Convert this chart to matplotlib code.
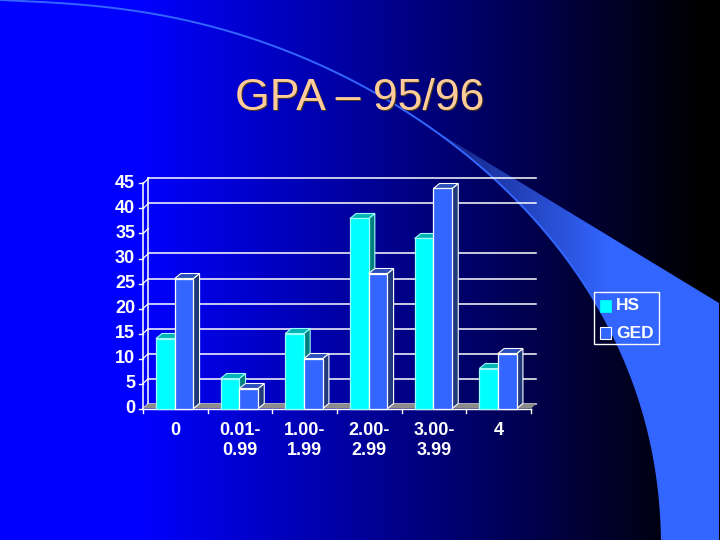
import numpy as np
import matplotlib
matplotlib.use("Agg")
import matplotlib.pyplot as plt
from matplotlib.patches import Polygon, Rectangle
from matplotlib.transforms import Affine2D

categories = ['0', '0.01-\n0.99', '1.00-\n1.99', '2.00-\n2.99', '3.00-\n3.99', '4']
hs = [14, 6, 15, 38, 34, 8]
ged = [26, 4, 10, 27, 44, 11]
y_ticks = [0, 5, 10, 15, 20, 25, 30, 35, 40, 45]
# the 35 line is missing on the back wall of the original
wall_lines = [0, 5, 10, 15, 20, 25, 30, 40, 45]
title = 'GPA \u2013 95/96'

plt.rcParams['font.family'] = ['Liberation Sans', 'DejaVu Sans']

W, H = 720, 540
fig = plt.figure(figsize=(W / 100, H / 100), dpi=100)

# slide background, in pixel coordinates
bg = fig.add_axes([0, 0, 1, 1])
bg.axis('off')
xx, yy = np.meshgrid(np.arange(W) + 0.5, np.arange(H) + 0.5)
img = np.zeros((1, W, 3))
img[0, :, 2] = np.clip((700 - xx[0]) / 560, 0, 1)
bg.imshow(img, extent=[0, W, H, 0], aspect='auto', zorder=0)

# swoosh edge, smoothed through points
arc_x = np.array([0, 46, 138, 230, 321, 413, 441, 490, 547, 587, 613, 630, 643, 653, 662])
arc_y = np.array([0, 2, 12, 30, 68, 113, 135, 178, 233, 287, 337, 373, 410, 453, 540])
t = np.concatenate([[0], np.cumsum(np.hypot(np.diff(arc_x), np.diff(arc_y)))])
t = t / t[-1]
ts = np.linspace(0, 1, 300)
cx = np.polyval(np.polyfit(t, arc_x, 7), ts)
cy = np.polyval(np.polyfit(t, arc_y, 7), ts)
tip = np.argmin(np.abs(cx - 430))

# wedge: straight upper edge from the tip, arc as lower edge
wedge_xy = list(zip(cx[tip:], cy[tip:])) + [(662, 540), (719, 540), (719, 303), (cx[tip], cy[tip])]
wedge = Polygon(wedge_xy, fc='none', ec='none', transform=bg.transData)
bg.add_patch(wedge)
w = np.clip((xx - 440) / 170, 0, 1)[..., None]
start = np.array([0.08, 0.13, 0.50])
end = np.array([0x33, 0x66, 0xff]) / 255
shade = bg.imshow(start * (1 - w) + end * w, extent=[0, W, H, 0], aspect='auto', zorder=1)
shade.set_clip_path(wedge)
bg.plot(cx, cy, color='#3366ff', lw=1.4, zorder=2)
bg.set_xlim(0, W)
bg.set_ylim(H, 0)

bg.text(360, 110, title, color='#4a3a20', fontsize=32, ha='center', va='baseline', zorder=3,
        transform=bg.transData + Affine2D().translate(1, -1))
bg.text(360, 110, title, color='#ffcc99', fontsize=32, ha='center', va='baseline', zorder=4)

# chart axes: x in categories, y in values, front plane of the 3d box
left, right, bottom, top = 143, 531, 408.5, 183.5
ax = fig.add_axes([left / W, 1 - bottom / H, (right - left) / W, (bottom - top) / H])
ax.patch.set_alpha(0)
ax.set_xlim(0, len(categories))
ax.set_ylim(0, 45)
ax.axis('off')

# depth of the box and of the bars, in data units
dx_box, dy_box = 0.085, 1.0
dx_bar, dy_bar = 0.095, 1.0
bar_w = 0.29
white = '#ffffff'

# floor
ax.add_patch(Polygon([(0, 0), (dx_box, dy_box), (6 + dx_box, dy_box), (6, 0)],
                     color='#8c8c8c', lw=0, zorder=2, clip_on=False))
for v in y_ticks:
    ax.plot([0, dx_box], [v, v + dy_box], color=white, lw=0.9, zorder=1, clip_on=False)
    ax.plot([-0.06, 0], [v, v], color=white, lw=1, zorder=1, clip_on=False)
    ax.text(-0.12, v, str(v), color=white, fontsize=13, fontweight='bold',
            ha='right', va='center', zorder=5)
for v in wall_lines:
    ax.plot([dx_box, 6 + dx_box], [v + dy_box, v + dy_box], color=white, lw=1.1,
            zorder=1, clip_on=False)
ax.plot([dx_box, dx_box], [dy_box, 45 + dy_box], color=white, lw=1.1, zorder=1, clip_on=False)
ax.plot([0, 0], [0, 45], color=white, lw=1.1, zorder=1, clip_on=False)
ax.plot([0, 6], [0, 0], color=white, lw=1, zorder=3, clip_on=False)
for k in range(7):
    ax.plot([k, k], [0, -0.8], color=white, lw=1, zorder=3, clip_on=False)


def draw_bar(x0, v, front, topc, side, outline, z):
    # side and top faces first, front face over them
    ax.add_patch(Polygon([(x0 + bar_w, 0), (x0 + bar_w + dx_bar, dy_bar),
                          (x0 + bar_w + dx_bar, v + dy_bar), (x0 + bar_w, v)],
                         fc=side, ec=outline, lw=0.8, zorder=z, clip_on=False))
    ax.add_patch(Polygon([(x0, v), (x0 + dx_bar, v + dy_bar),
                          (x0 + bar_w + dx_bar, v + dy_bar), (x0 + bar_w, v)],
                         fc=topc, ec=outline, lw=0.8, zorder=z, clip_on=False))
    ax.bar(x0, v, width=bar_w, align='edge', color=front, edgecolor=outline, lw=0.9,
           zorder=z + 0.1, clip_on=False)


for i in range(len(categories)):
    x0 = i + 0.2
    draw_bar(x0, hs[i], '#00ffff', '#00b4b4', '#007f7f', '#9ffcfc', 4 + i)
    draw_bar(x0 + bar_w, ged[i], '#3366ff', '#2a4fb8', '#1f3a7a', white, 4.3 + i)
    ax.text(i + 0.5, -2.7, categories[i], color=white, fontsize=13, fontweight='bold',
            ha='center', va='top', linespacing=1.26, zorder=5, clip_on=False)

# legend
bg.add_patch(Rectangle((593.5, 292), 65.5, 52, fc='none', ec=white, lw=1, zorder=6))
bg.add_patch(Rectangle((599.5, 300), 11.5, 12, fc='#00ffff', ec='#00ffff', lw=0.5, zorder=6))
bg.add_patch(Rectangle((599.5, 327), 11.5, 12, fc='#3366ff', ec=white, lw=0.8, zorder=6))
bg.text(616, 306, 'HS', color=white, fontsize=12.5, fontweight='bold', va='center', zorder=6)
bg.text(616, 333, 'GED', color=white, fontsize=12.5, fontweight='bold', va='center', zorder=6)

fig.savefig('out.png', dpi=100)
